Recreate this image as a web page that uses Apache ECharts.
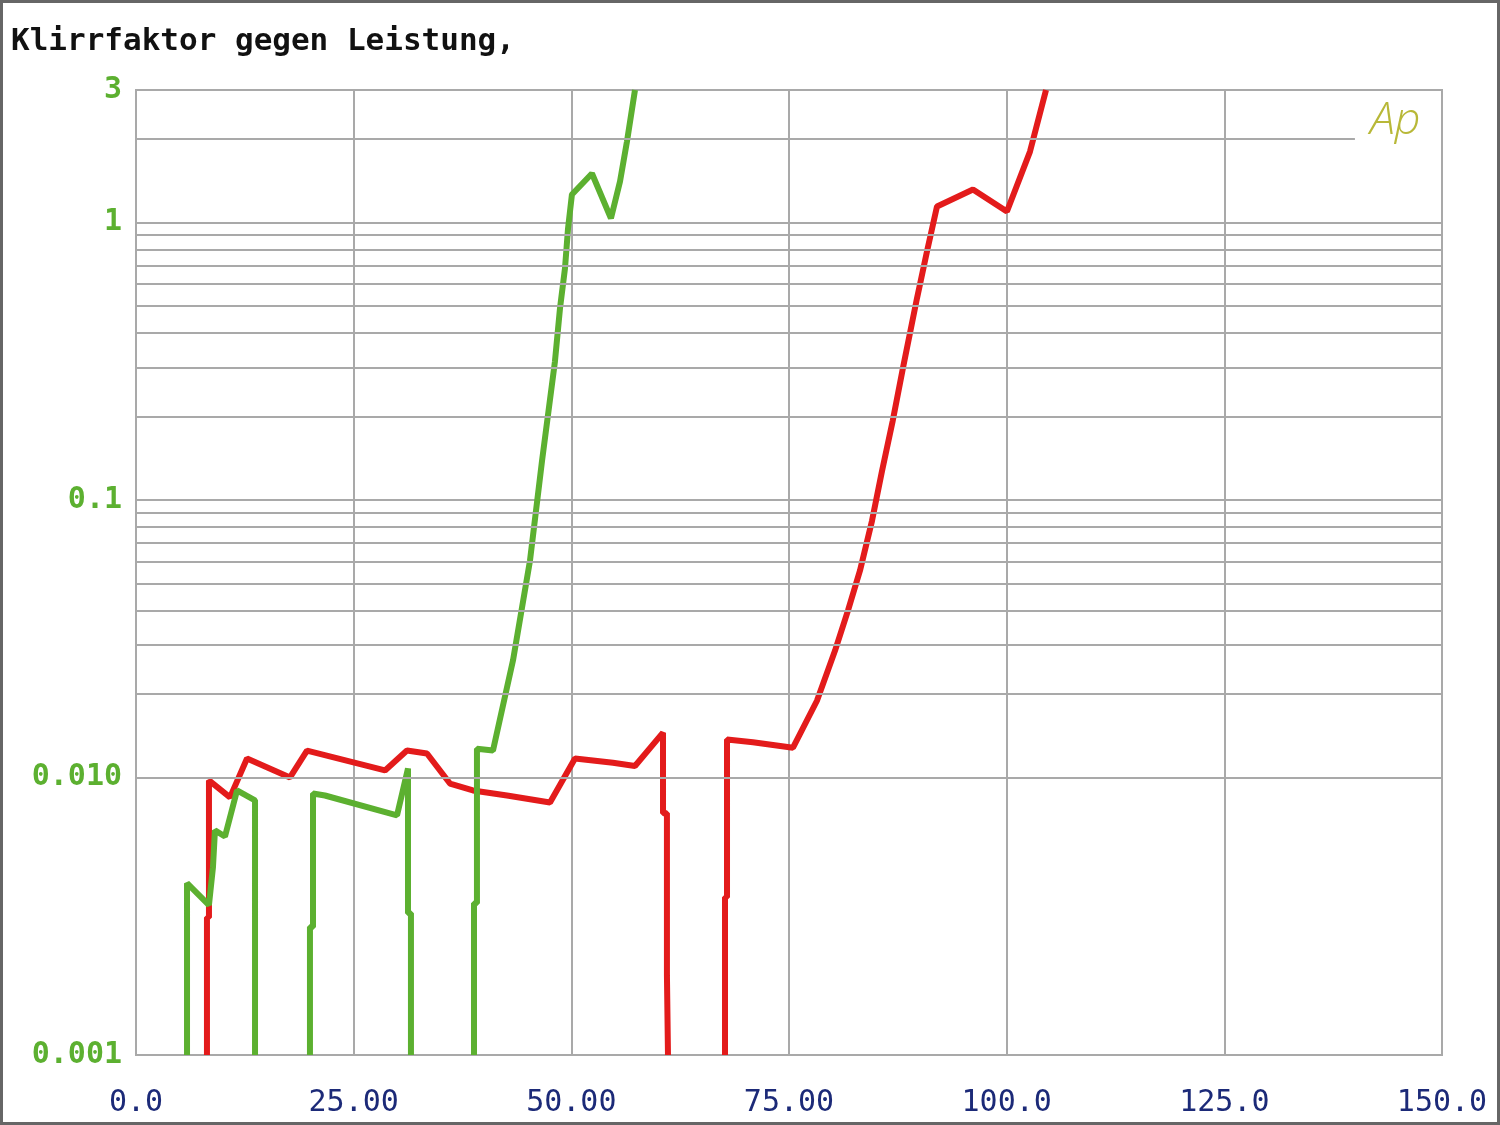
<!DOCTYPE html>
<html>
<head>
<meta charset="utf-8">
<script src="https://cdn.jsdelivr.net/npm/echarts@6/dist/echarts.min.js"></script>
<style>
html,body{margin:0;padding:0;background:#fff;}
#chart{width:1500px;height:1125px;}
</style>
</head>
<body>
<div id="chart"></div>
<script>
// ---- data ----
var titleText = 'Klirrfaktor gegen Leistung,';
var xTickValues = [0, 25, 50, 75, 100, 125, 150];
var xTickLabels = ['0.0', '25.00', '50.00', '75.00', '100.0', '125.0', '150.0'];
var yTickValues = [0.001, 0.01, 0.1, 1, 3];
var yTickLabels = ['0.001', '0.010', '0.1', '1', '3'];
var yMinorLines = [0.002,0.003,0.004,0.005,0.006,0.007,0.008,0.009,
                   0.02,0.03,0.04,0.05,0.06,0.07,0.08,0.09,
                   0.2,0.3,0.4,0.5,0.6,0.7,0.8,0.9];
var partialLineValue = 2;
var partialLineEnd = 140;

// '-' marks a gap in the trace
var greenX = [5.86,5.86,8.38,8.84,9.07,10.22,11.6,13.67,13.67,16.8,19.98,19.98,20.33,20.33,21.7,29.98,31.24,31.24,31.58,31.58,35.2,38.82,38.82,39.16,39.16,41.0,43.3,45.25,46.63,48.12,48.70,49.27,49.62,50.07,52.37,54.55,55.59,56.39,57.31];
var greenY = [0.001,0.00416,0.00347,0.00475,0.00645,0.00613,0.00898,0.00827,0.001,'-',0.001,0.00289,0.00289,0.00876,0.00861,0.0073,0.01077,0.00324,0.00324,0.001,'-',0.001,0.00352,0.00352,0.0127,0.0125,0.0264,0.0604,0.138,0.316,0.491,0.683,0.951,1.261,1.50,1.034,1.404,1.956,3.0];

var redX = [8.15,8.15,8.38,8.38,10.80,12.75,17.69,19.64,28.60,31.12,33.42,36.06,38.70,42.61,47.55,50.42,54.78,57.31,60.53,60.53,60.98,60.98,61.10,61.10,64.5,67.65,67.65,67.88,67.88,70.86,75.46,78.21,80.28,81.77,83.15,84.53,85.68,86.9,88.09,89.70,90.85,92.0,96.13,100.03,102.68,104.52];
var redY = [0.001,0.00313,0.00313,0.00976,0.00848,0.0117,0.0100,0.0125,0.0106,0.0125,0.0122,0.00951,0.00898,0.00861,0.00813,0.0117,0.0113,0.0110,0.0145,0.00743,0.00743,0.00194,0.00194,0.001,'-',0.001,0.0037,0.0037,0.0137,0.0134,0.0128,0.0189,0.0286,0.0399,0.0556,0.0840,0.127,0.192,0.299,0.533,0.787,1.142,1.314,1.095,1.80,3.0];

function zip(xs, ys){ return xs.map(function(x,i){ return [x, ys[i]]; }); }
function nearestLabel(v, vals, labels){
  var best = 0, bd = Infinity;
  for (var i=0;i<vals.length;i++){
    var d = Math.abs(Math.log(v) - Math.log(vals[i]));
    if (d < bd){ bd = d; best = i; }
  }
  return bd < 0.01 ? labels[best] : '';
}

var gridColor = '#a9a9a9';
var chart = echarts.init(document.getElementById('chart'), null, {renderer:'canvas'});
var minorData = yMinorLines.map(function(v){ return {yAxis: v}; });
minorData.push([{coord:[0, partialLineValue]}, {coord:[partialLineEnd, partialLineValue]}]);

chart.setOption({
  animation: false,
  backgroundColor: '#fff',
  title: {
    text: titleText,
    left: 6, top: 21,
    textStyle: {fontFamily: 'DejaVu Sans Mono', fontSize: 31, fontWeight: 'bold', color: '#111'}
  },
  grid: {left: 136, top: 90, right: 58, bottom: 70, show: true, borderColor: gridColor, borderWidth: 2, backgroundColor: 'transparent'},
  xAxis: {
    type: 'value', min: 0, max: 150, interval: 25,
    axisLine: {show: false}, axisTick: {show: false},
    splitLine: {show: true, lineStyle: {color: gridColor, width: 2}},
    axisLabel: {
      margin: 33, fontFamily: 'DejaVu Sans Mono', fontSize: 30, color: '#1c2a78',
      formatter: function(v){ var i = xTickValues.indexOf(v); return i >= 0 ? xTickLabels[i] : ''; }
    }
  },
  yAxis: {
    type: 'log', logBase: 10, min: 0.001, max: 3,
    axisLine: {show: false}, axisTick: {show: false},
    splitLine: {show: true, lineStyle: {color: gridColor, width: 2}},
    axisLabel: {
      margin: 14, fontFamily: 'DejaVu Sans Mono', fontSize: 30, fontWeight: 'bold', color: '#5cb030',
      formatter: function(v){ return nearestLabel(v, yTickValues, yTickLabels); }
    }
  },
  graphic: [
    {type: 'rect', shape: {x: 1.5, y: 1.5, width: 1497, height: 1122}, style: {fill: 'none', stroke: '#666', lineWidth: 3}, z: 100},
    {type: 'text', left: 1370, top: 99, style: {text: 'Ap', font: 'italic 300 45px "Open Sans"', fill: '#b8b838'}, z: 100}
  ],
  series: [
    {
      type: 'line', data: [], z: 1, silent: true,
      markLine: {silent: true, symbol: 'none', label: {show: false}, animation: false,
        lineStyle: {color: gridColor, width: 2, type: 'solid'}, emphasis: {disabled: true},
        data: minorData}
    },
    {
      type: 'line', data: zip(redX, redY), z: 3, showSymbol: false, connectNulls: false,
      lineStyle: {color: '#e31b1b', width: 6}, itemStyle: {color: '#e31b1b'}
    },
    {
      type: 'line', data: zip(greenX, greenY), z: 4, showSymbol: false, connectNulls: false,
      lineStyle: {color: '#5cb030', width: 6}, itemStyle: {color: '#5cb030'}
    }
  ]
});
</script>
</body>
</html>
